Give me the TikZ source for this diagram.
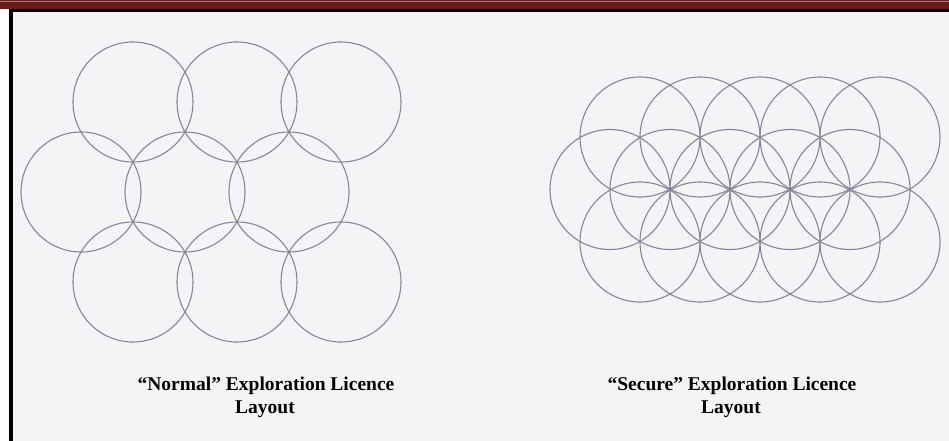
\documentclass[tikz,border=0pt]{standalone}
\usepackage{fontspec}
\setmainfont{Liberation Serif}
\usepackage{tikz}
\definecolor{barred}{HTML}{6A1A1A}
\definecolor{paper}{HTML}{F3F4F6}
\definecolor{ringgray}{HTML}{86869A}

\begin{document}
\begin{tikzpicture}[x=1pt,y=-1pt,line width=1.1pt,
  ring/.style={draw=ringgray,line width=1.1pt},
  caption/.style={anchor=base,inner sep=0pt,font=\bfseries\fontsize{19.5}{22}\selectfont}]
  \useasboundingbox (0,0) rectangle (949,441);
  % frame
  \fill[white] (0,0) rectangle (949,441);
  \fill[paper] (12.5,12.5) rectangle (949,441);
  \fill[barred] (0,0) rectangle (949,9);
  \draw[barred!60!white,line width=0.8pt] (0,1.6) -- (949,1.6);
  \fill[black] (9,9) rectangle (949,12.5);
  \fill[black] (9,9) rectangle (12.5,441);
  % normal layout: spacing 104, radius 60
  \foreach \i in {0,1,2} {
    \draw[ring] (133+104*\i,102) circle (60);
    \draw[ring] (81+104*\i,192) circle (60);
    \draw[ring] (133+104*\i,282) circle (60);
  }
  % secure layout: spacing 60, radius 60
  \foreach \i in {0,...,4} {
    \draw[ring] (640+60*\i,137) circle (60);
    \draw[ring] (610+60*\i,189.5) circle (60);
    \draw[ring] (640+60*\i,242) circle (60);
  }
  \node[caption] (normal) at (266,390.5) {“Normal” Exploration Licence};
  \node[caption] (normallay) at (265,413) {Layout};
  \node[caption] (secure) at (732,390.5) {“Secure” Exploration Licence};
  \node[caption] (securelay) at (731,413) {Layout};
\end{tikzpicture}
\end{document}
